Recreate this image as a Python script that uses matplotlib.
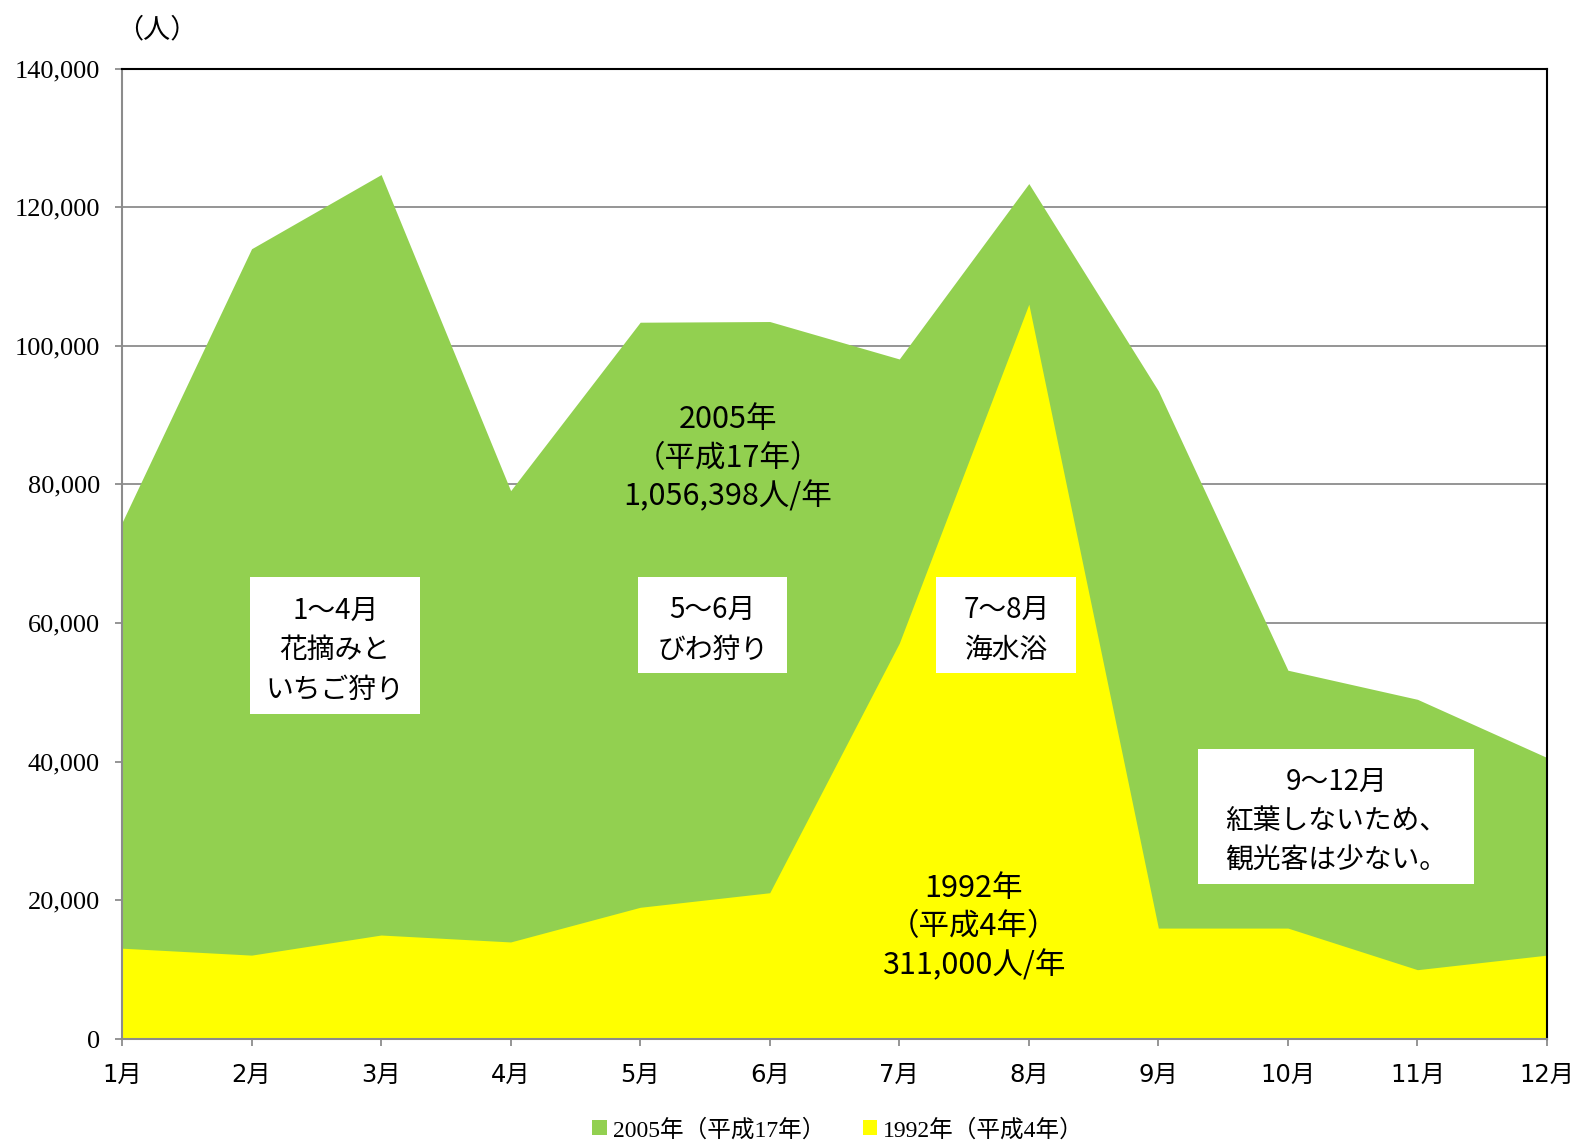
import matplotlib
matplotlib.use("Agg")
import matplotlib.pyplot as plt
from matplotlib.patches import Rectangle, Patch

months = ["1月", "2月", "3月", "4月", "5月", "6月", "7月", "8月", "9月", "10月", "11月", "12月"]
visitors_2005 = [74500, 114000, 124700, 79100, 103400, 103500, 98100, 123400, 93500, 53200, 49000, 40600]
visitors_1992 = [13100, 12100, 15000, 14000, 19000, 21100, 57100, 106000, 16000, 16000, 10000, 12100]
series_labels = ["2005年（平成17年）", "1992年（平成4年）"]
y_ticks = [0, 20000, 40000, 60000, 80000, 100000, 120000, 140000]

GREEN = "#92D050"
YELLOW = "#FFFF00"
GRID = "#8C8C8C"
CJK = ["Noto Sans CJK JP", "DejaVu Sans"]
SERIF = ["Liberation Serif", "Noto Sans CJK JP"]
TICKX = ["DejaVu Sans", "Noto Sans CJK JP"]

plt.rcParams["font.family"] = CJK

W, H = 1580, 1145
fig = plt.figure(figsize=(W / 100, H / 100), dpi=100)
ax = fig.add_axes([122 / W, 1 - 1039 / H, (1547 - 122) / W, (1039 - 68.5) / H])

x = list(range(len(months)))
ax.fill_between(x, 0, visitors_2005, color=GREEN, lw=0, zorder=2)
ax.fill_between(x, 0, visitors_1992, color=YELLOW, lw=0, zorder=3)

ax.set_xlim(0, len(months) - 1)
ax.set_ylim(0, 140000)
ax.set_yticks(y_ticks)
ax.set_yticklabels([f"{v:,}" for v in y_ticks], family=SERIF, fontsize=19)
ax.set_xticks(x)
ax.set_xticklabels(months, family=TICKX, fontsize=17.5)
ax.yaxis.grid(True, color=GRID, lw=1.3, zorder=1)
ax.set_axisbelow(True)
ax.tick_params(axis="y", direction="out", length=5, width=1.3, color=GRID, pad=11)
ax.tick_params(axis="x", direction="out", length=5, width=1.3, color=GRID, pad=12)
for s in ["left", "bottom"]:
    ax.spines[s].set_color(GRID)
    ax.spines[s].set_linewidth(1.5)
for s in ["top", "right"]:
    ax.spines[s].set_color("black")
    ax.spines[s].set_linewidth(1.5)
for s in ax.spines.values():
    s.set_zorder(5)

# annotation boxes (data-coordinate layout)
boxes = [
    ((0.988, 46950), 1.315, 19630, "1～4月\n花摘みと\nいちご狩り"),
    ((3.983, 52770), 1.151, 13810, "5～6月\nびわ狩り"),
    ((6.286, 52770), 1.081, 13810, "7～8月\n海水浴"),
    ((8.308, 22390), 2.132, 19480, "9～12月\n紅葉しないため、\n観光客は少ない。"),
]
for (x0, y0), w, h, txt in boxes:
    ax.add_patch(Rectangle((x0, y0), w, h, fc="white", ec="none", zorder=6))
    ax.text(x0 + w / 2, y0 + h / 2 - 700, txt, ha="center", va="center", fontsize=20,
            linespacing=1.42, zorder=7)

ax.text(4.675, 83750, "2005年\n（平成17年）\n1,056,398人/年", ha="center", va="center",
        fontsize=22, linespacing=1.3, zorder=7)
ax.text(6.573, 16150, "1992年\n（平成4年）\n311,000人/年", ha="center", va="center",
        fontsize=22, linespacing=1.3, zorder=7)

fig.text(157 / W, 1 - 30 / H, "（人）", ha="center", va="center", fontsize=19.5)

handles = [Patch(fc=GREEN, ec="none"), Patch(fc=YELLOW, ec="none")]
fig.legend(handles, series_labels, loc="center", bbox_to_anchor=(838 / W, 1 - 1130 / H),
           ncol=2, frameon=False, prop={"family": SERIF, "size": 17},
           handlelength=0.6, handleheight=0.6, handletextpad=0.25, columnspacing=1.6)

fig.savefig("out.png", dpi=100)
